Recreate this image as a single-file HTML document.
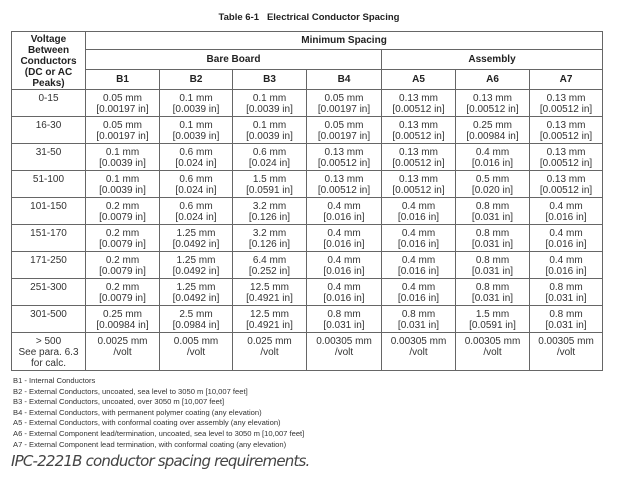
<!DOCTYPE html>
<html><head><meta charset="utf-8">
<style>
html,body{margin:0;padding:0;background:#fff;width:618px;height:480px;overflow:hidden;position:relative;font-family:"Liberation Sans",Arial,sans-serif;}
#title{position:absolute;left:0;width:618px;top:12px;text-align:center;font-size:9.5px;font-weight:bold;color:#222;}
table{position:absolute;left:11px;top:31px;border-collapse:collapse;table-layout:fixed;width:591px;border:1.5px solid #444;}
td,th{border:1px solid #666;padding:0;font-size:10px;line-height:11px;color:#333;text-align:center;vertical-align:top;box-sizing:border-box;}
th{font-weight:bold;color:#222;}
.h1 th{height:18px;vertical-align:middle;}
.h2 th{height:20px;vertical-align:middle;}
.h3 th{height:20px;vertical-align:middle;}
.d td{height:27px;padding-top:3px;}
.last td{height:38px;padding-top:3px;}
#legend{position:absolute;left:13px;top:376px;font-size:7.6px;line-height:10.6px;color:#333;}
#caption{position:absolute;left:11px;top:452px;font-size:15px;font-style:italic;color:#444;font-family:"DejaVu Sans","Liberation Sans",sans-serif;letter-spacing:-0.8px;}
</style></head><body>
<div id="title">Table 6-1&nbsp;&nbsp;&nbsp;Electrical Conductor Spacing</div>
<table>
<colgroup><col style="width:74px"><col style="width:74px"><col style="width:73px"><col style="width:74px"><col style="width:75px"><col style="width:74px"><col style="width:74px"><col style="width:73px"></colgroup>
<tr class="h1"><th rowspan="3" style="vertical-align:top;padding-top:2px;">Voltage Between Conductors (DC or AC Peaks)</th><th colspan="7">Minimum Spacing</th></tr>
<tr class="h2"><th colspan="4">Bare Board</th><th colspan="3">Assembly</th></tr>
<tr class="h3"><th>B1</th><th>B2</th><th>B3</th><th>B4</th><th>A5</th><th>A6</th><th>A7</th></tr>
<tr class="d"><td>0-15</td><td>0.05 mm<br>[0.00197 in]</td><td>0.1 mm<br>[0.0039 in]</td><td>0.1 mm<br>[0.0039 in]</td><td>0.05 mm<br>[0.00197 in]</td><td>0.13 mm<br>[0.00512 in]</td><td>0.13 mm<br>[0.00512 in]</td><td>0.13 mm<br>[0.00512 in]</td></tr>
<tr class="d"><td>16-30</td><td>0.05 mm<br>[0.00197 in]</td><td>0.1 mm<br>[0.0039 in]</td><td>0.1 mm<br>[0.0039 in]</td><td>0.05 mm<br>[0.00197 in]</td><td>0.13 mm<br>[0.00512 in]</td><td>0.25 mm<br>[0.00984 in]</td><td>0.13 mm<br>[0.00512 in]</td></tr>
<tr class="d"><td>31-50</td><td>0.1 mm<br>[0.0039 in]</td><td>0.6 mm<br>[0.024 in]</td><td>0.6 mm<br>[0.024 in]</td><td>0.13 mm<br>[0.00512 in]</td><td>0.13 mm<br>[0.00512 in]</td><td>0.4 mm<br>[0.016 in]</td><td>0.13 mm<br>[0.00512 in]</td></tr>
<tr class="d"><td>51-100</td><td>0.1 mm<br>[0.0039 in]</td><td>0.6 mm<br>[0.024 in]</td><td>1.5 mm<br>[0.0591 in]</td><td>0.13 mm<br>[0.00512 in]</td><td>0.13 mm<br>[0.00512 in]</td><td>0.5 mm<br>[0.020 in]</td><td>0.13 mm<br>[0.00512 in]</td></tr>
<tr class="d"><td>101-150</td><td>0.2 mm<br>[0.0079 in]</td><td>0.6 mm<br>[0.024 in]</td><td>3.2 mm<br>[0.126 in]</td><td>0.4 mm<br>[0.016 in]</td><td>0.4 mm<br>[0.016 in]</td><td>0.8 mm<br>[0.031 in]</td><td>0.4 mm<br>[0.016 in]</td></tr>
<tr class="d"><td>151-170</td><td>0.2 mm<br>[0.0079 in]</td><td>1.25 mm<br>[0.0492 in]</td><td>3.2 mm<br>[0.126 in]</td><td>0.4 mm<br>[0.016 in]</td><td>0.4 mm<br>[0.016 in]</td><td>0.8 mm<br>[0.031 in]</td><td>0.4 mm<br>[0.016 in]</td></tr>
<tr class="d"><td>171-250</td><td>0.2 mm<br>[0.0079 in]</td><td>1.25 mm<br>[0.0492 in]</td><td>6.4 mm<br>[0.252 in]</td><td>0.4 mm<br>[0.016 in]</td><td>0.4 mm<br>[0.016 in]</td><td>0.8 mm<br>[0.031 in]</td><td>0.4 mm<br>[0.016 in]</td></tr>
<tr class="d"><td>251-300</td><td>0.2 mm<br>[0.0079 in]</td><td>1.25 mm<br>[0.0492 in]</td><td>12.5 mm<br>[0.4921 in]</td><td>0.4 mm<br>[0.016 in]</td><td>0.4 mm<br>[0.016 in]</td><td>0.8 mm<br>[0.031 in]</td><td>0.8 mm<br>[0.031 in]</td></tr>
<tr class="d"><td>301-500</td><td>0.25 mm<br>[0.00984 in]</td><td>2.5 mm<br>[0.0984 in]</td><td>12.5 mm<br>[0.4921 in]</td><td>0.8 mm<br>[0.031 in]</td><td>0.8 mm<br>[0.031 in]</td><td>1.5 mm<br>[0.0591 in]</td><td>0.8 mm<br>[0.031 in]</td></tr>
<tr class="last"><td>&gt; 500<br>See para. 6.3<br>for calc.</td><td>0.0025 mm<br>/volt</td><td>0.005 mm<br>/volt</td><td>0.025 mm<br>/volt</td><td>0.00305 mm<br>/volt</td><td>0.00305 mm<br>/volt</td><td>0.00305 mm<br>/volt</td><td>0.00305 mm<br>/volt</td></tr>
</table>
<div id="legend">
B1 - Internal Conductors<br>
B2 - External Conductors, uncoated, sea level to 3050 m [10,007 feet]<br>
B3 - External Conductors, uncoated, over 3050 m [10,007 feet]<br>
B4 - External Conductors, with permanent polymer coating (any elevation)<br>
A5 - External Conductors, with conformal coating over assembly (any elevation)<br>
A6 - External Component lead/termination, uncoated, sea level to 3050 m [10,007 feet]<br>
A7 - External Component lead termination, with conformal coating (any elevation)
</div>
<div id="caption">IPC-2221B conductor spacing requirements.</div>
</body></html>
